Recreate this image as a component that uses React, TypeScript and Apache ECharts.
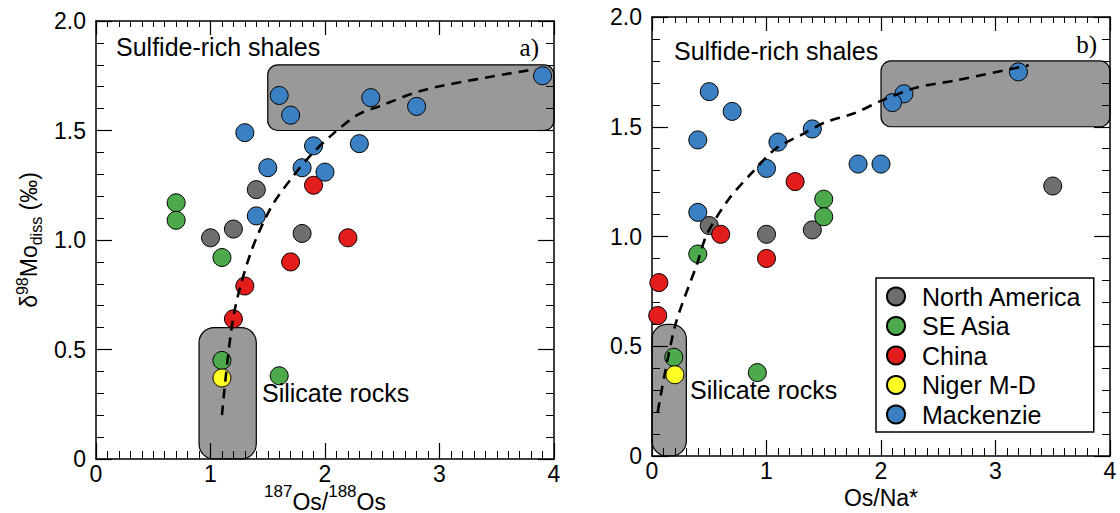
import React, { useEffect, useRef } from 'react';
import * as echarts from 'echarts';

// ---------- data ----------
const categories = ['North America', 'SE Asia', 'China', 'Niger M-D', 'Mackenzie'];
const categoryColors = ['#6e6e6e', '#4caa4c', '#e31c1c', '#ffff26', '#3b80c2'];

const xTickLabels = ['0', '1', '2', '3', '4'];
const yTickLabels = ['0', '0.5', '1.0', '1.5', '2.0'];

// panel a) : 187Os/188Os vs d98Mo
const northAmericaA = [[1.0, 1.01], [1.2, 1.05], [1.4, 1.23], [1.8, 1.03]];
const seAsiaA = [[0.7, 1.17], [0.7, 1.09], [1.1, 0.92], [1.1, 0.45], [1.6, 0.38]];
const chinaA = [[1.9, 1.25], [2.2, 1.01], [1.7, 0.9], [1.3, 0.79], [1.2, 0.64]];
const nigerA = [[1.1, 0.37]];
const mackenzieA = [
  [3.9, 1.75], [1.6, 1.66], [1.7, 1.57], [2.4, 1.65], [2.8, 1.61], [1.3, 1.49],
  [1.9, 1.43], [2.3, 1.44], [1.5, 1.33], [1.8, 1.33], [2.0, 1.31], [1.4, 1.11],
];
const curveA = [
  [1.1, 0.2], [1.2, 0.65], [1.35, 0.94], [1.53, 1.15], [1.72, 1.29], [1.88, 1.39],
  [2.06, 1.48], [2.28, 1.57], [2.47, 1.61], [2.9, 1.69], [3.84, 1.78],
];
// [x0, y0, x1, y1]
const boxesA = [[1.5, 1.5, 4.0, 1.8], [0.9, 0, 1.4, 0.6]];

// panel b) : Os/Na* vs d98Mo
const northAmericaB = [[3.5, 1.23], [0.5, 1.05], [1.0, 1.01], [1.4, 1.03]];
const seAsiaB = [[0.4, 0.92], [1.5, 1.17], [1.5, 1.09], [0.19, 0.45], [0.92, 0.38]];
const chinaB = [[1.25, 1.25], [0.6, 1.01], [1.0, 0.9], [0.06, 0.79], [0.05, 0.64]];
const nigerB = [[0.2, 0.37]];
const mackenzieB = [
  [3.2, 1.75], [2.2, 1.65], [2.1, 1.61], [0.5, 1.66], [0.7, 1.57], [0.4, 1.44],
  [1.4, 1.49], [1.1, 1.43], [1.0, 1.31], [1.8, 1.33], [2.0, 1.33], [0.4, 1.11],
];
const curveB = [
  [0.05, 0.2], [0.2, 0.59], [0.39, 0.87], [0.48, 1.01], [0.67, 1.17], [0.89, 1.3],
  [1.08, 1.4], [1.33, 1.47], [1.51, 1.52], [1.76, 1.56], [2.01, 1.62], [2.32, 1.68],
  [2.64, 1.71], [3.29, 1.78],
];
const boxesB = [[2.0, 1.5, 4.0, 1.8], [0, 0, 0.3, 0.6]];

const seriesA = [northAmericaA, seAsiaA, chinaA, nigerA, mackenzieA];
const seriesB = [northAmericaB, seAsiaB, chinaB, nigerB, mackenzieB];

// ---------- styling ----------
const FONT = '"Liberation Sans", Arial, Helvetica, sans-serif';
const SERIF = '"Liberation Serif", "Times New Roman", serif';
const boxRadius = [10, 15];

function xAxisDef(grid: number, position: 'bottom' | 'top', name?: string, nameGap?: number, labelMargin?: number) {
  return {
    type: 'value',
    gridIndex: grid,
    position,
    min: 0,
    max: 4,
    interval: 1,
    z: 1,
    name: name || '',
    nameLocation: 'middle',
    nameGap: nameGap || 30,
    nameMoveOverlap: false,
    nameTextStyle: {
      fontSize: 23,
      lineHeight: 20,
      color: '#000',
      fontFamily: FONT,
      rich: {
        n: { fontSize: 23, fontFamily: FONT, color: '#000', lineHeight: 30, verticalAlign: 'bottom' },
        sup: { fontSize: 17, fontFamily: FONT, color: '#000', lineHeight: 16, verticalAlign: 'top' },
      },
    },
    axisLine: { show: true, onZero: false, lineStyle: { color: '#000', width: 1.5 } },
    axisTick: { show: true, inside: true, length: position === 'top' ? 14 : 16, lineStyle: { color: '#000', width: 1.2 } },
    minorTick: { show: true, splitNumber: 10, length: position === 'top' ? 6 : 8, lineStyle: { color: '#000', width: 1 } },
    splitLine: { show: false },
    minorSplitLine: { show: false },
    axisLabel: {
      show: position === 'bottom',
      margin: labelMargin || 5,
      fontSize: 23,
      lineHeight: 20,
      color: '#000',
      fontFamily: FONT,
      formatter: (v: number) => xTickLabels[Math.round(v)] ?? '',
    },
  };
}

function yAxisDef(grid: number, position: 'left' | 'right', name?: string) {
  return {
    type: 'value',
    gridIndex: grid,
    position,
    min: 0,
    max: 2,
    interval: 0.5,
    z: 1,
    name: name || '',
    nameLocation: 'middle',
    nameRotate: 90,
    nameGap: 52,
    nameMoveOverlap: false,
    nameTextStyle: {
      fontSize: 23,
      color: '#000',
      fontFamily: FONT,
      rich: {
        n: { fontSize: 23, fontFamily: FONT, color: '#000', lineHeight: 30, verticalAlign: 'middle' },
        sup: { fontSize: 16, fontFamily: FONT, color: '#000', lineHeight: 16, verticalAlign: 'top' },
        sub: { fontSize: 16, fontFamily: FONT, color: '#000', lineHeight: 16, verticalAlign: 'bottom' },
      },
    },
    axisLine: { show: true, onZero: false, lineStyle: { color: '#000', width: 1.5 } },
    axisTick: { show: true, inside: true, length: 16, lineStyle: { color: '#000', width: 1.2 } },
    minorTick: { show: true, splitNumber: 5, length: 8, lineStyle: { color: '#000', width: 1 } },
    splitLine: { show: false },
    minorSplitLine: { show: false },
    axisLabel: {
      show: position === 'left',
      margin: 10,
      fontSize: 23,
      color: '#000',
      fontFamily: FONT,
      formatter: (v: number) => yTickLabels[Math.round(v * 2)] ?? '',
    },
  };
}

function boxSeries(boxes: number[][], axisIndex: number) {
  return {
    type: 'custom',
    xAxisIndex: axisIndex,
    yAxisIndex: axisIndex,
    z: 0,
    silent: true,
    clip: false,
    data: boxes,
    renderItem: (params: any, api: any) => {
      const p0 = api.coord([api.value(0), api.value(3)]);
      const p1 = api.coord([api.value(2), api.value(1)]);
      return {
        type: 'rect',
        shape: {
          x: p0[0],
          y: p0[1],
          width: p1[0] - p0[0],
          height: p1[1] - p0[1],
          r: boxRadius[params.dataIndex],
        },
        style: { fill: '#999999', stroke: '#000', lineWidth: 1.2 },
      };
    },
  };
}

function curveSeries(curve: number[][], axisIndex: number) {
  return {
    type: 'line',
    xAxisIndex: axisIndex,
    yAxisIndex: axisIndex,
    data: curve,
    smooth: 0.3,
    symbol: 'none',
    showSymbol: false,
    silent: true,
    z: 4,
    lineStyle: { color: '#000', width: 2.6, type: [10, 7] },
  };
}

function scatterSeries(data: number[][][], axisIndex: number) {
  return data.map((d, i) => ({
    type: 'scatter',
    name: categories[i],
    xAxisIndex: axisIndex,
    yAxisIndex: axisIndex,
    data: d,
    symbol: 'circle',
    symbolSize: 18,
    z: 3,
    itemStyle: { color: categoryColors[i], borderColor: '#000', borderWidth: 1, opacity: 1 },
  }));
}

function textEl(text: string, x: number, y: number, opts: any = {}) {
  return {
    type: 'text',
    x,
    y,
    z: 5,
    style: {
      text,
      fill: '#000',
      fontSize: opts.fontSize || 25,
      fontFamily: opts.fontFamily || FONT,
      align: opts.align || 'left',
      verticalAlign: 'middle',
    },
  };
}

export default function App() {
  const ref = useRef<HTMLDivElement>(null);

  useEffect(() => {
    if (!ref.current) return;
    const chart = echarts.init(ref.current, undefined, { renderer: 'svg' });
    const option: any = {
      animation: false,
      backgroundColor: '#fff',
      grid: [
        { left: 96, right: 566, top: 21, bottom: 54, containLabel: false, outerBoundsMode: 'none' },
        { left: 652, right: 10, top: 17, bottom: 57, containLabel: false, outerBoundsMode: 'none' },
      ],
      xAxis: [
        xAxisDef(0, 'bottom', '{sup|187}{n|Os/}{sup|188}{n|Os}', 24, 5),
        xAxisDef(0, 'top'),
        xAxisDef(1, 'bottom', 'Os/Na*', 32, 5),
        xAxisDef(1, 'top'),
      ],
      yAxis: [
        yAxisDef(0, 'left', '{n|δ}{sup|98}{n|Mo}{sub|diss}{n| (‰)}'),
        yAxisDef(0, 'right'),
        yAxisDef(1, 'left'),
        yAxisDef(1, 'right'),
      ],
      legend: {
        show: true,
        data: categories,
        orient: 'vertical',
        left: 876,
        top: 278,
        padding: [6, 12, 5, 10],
        itemGap: 4.5,
        itemWidth: 30,
        itemHeight: 18,
        icon: 'circle',
        borderColor: '#000',
        borderWidth: 1.5,
        backgroundColor: '#fff',
        z: 10,
        selectedMode: false,
        textStyle: { fontSize: 25, color: '#000', fontFamily: FONT, padding: [0, 0, 0, 6] },
      },
      graphic: [
        textEl('Sulfide-rich shales', 116, 47),
        textEl('a)', 539, 47, { fontFamily: SERIF, fontSize: 25, align: 'right' }),
        textEl('Silicate rocks', 262, 393),
        textEl('Sulfide-rich shales', 674, 51),
        textEl('b)', 1097, 44, { fontFamily: SERIF, fontSize: 25, align: 'right' }),
        textEl('Silicate rocks', 690, 390),
      ],
      series: [
        boxSeries(boxesA, 0),
        curveSeries(curveA, 0),
        ...scatterSeries(seriesA, 0),
        boxSeries(boxesB, 2),
        curveSeries(curveB, 2),
        ...scatterSeries(seriesB, 2),
      ],
    };
    chart.setOption(option);
    return () => chart.dispose();
  }, []);

  return (
    <div
      ref={ref}
      style={{ position: 'fixed', left: 0, top: 0, width: 1120, height: 513, background: '#fff' }}
    />
  );
}
